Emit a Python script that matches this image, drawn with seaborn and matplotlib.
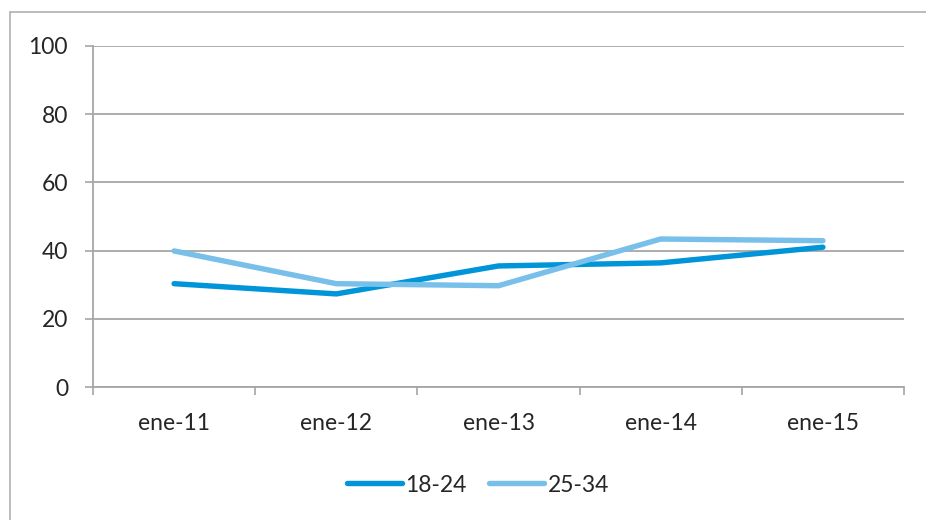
import matplotlib
matplotlib.use("Agg")
import matplotlib.pyplot as plt
from matplotlib.lines import Line2D
from matplotlib.ticker import FixedLocator
import pandas as pd
import seaborn as sns

# data
fechas = ["ene-11", "ene-12", "ene-13", "ene-14", "ene-15"]
serie_18_24 = [30.3, 27.3, 35.5, 36.4, 41.0]
serie_25_34 = [39.9, 30.3, 29.7, 43.4, 42.9]
series = ["18-24", "25-34"]
colores = ["#0095d9", "#78c0ea"]
y_ticks = [0, 20, 40, 60, 80, 100]

df = pd.DataFrame({
    "fecha": fechas * 2,
    "valor": serie_18_24 + serie_25_34,
    "grupo": [series[0]] * len(fechas) + [series[1]] * len(fechas),
})
df["pos"] = list(range(len(fechas))) * 2

sns.set_style("white")
plt.rcParams["font.family"] = ["Lato", "DejaVu Sans"]

W, H = 926, 520
FS = 16.5
fig = plt.figure(figsize=(W / 100, H / 100), dpi=100)
ax = fig.add_axes([93 / W, 1 - 387 / H, (904 - 93) / W, (387 - 46) / H])

sns.lineplot(
    data=df, x="pos", y="valor", hue="grupo", palette=colores,
    linewidth=3.9, ax=ax, legend=False, zorder=3,
)
for line in ax.get_lines():
    line.set_solid_capstyle("round")
    line.set_solid_joinstyle("round")

grid_color = "#a6a6a6"
ax.set_xlim(-0.5, len(fechas) - 0.5)
ax.set_ylim(0, 100)
ax.set_yticks(y_ticks)
ax.set_xticks(range(len(fechas)))
ax.set_xticklabels(fechas)
ax.xaxis.set_minor_locator(FixedLocator([i - 0.5 for i in range(len(fechas) + 1)]))
ax.tick_params(axis="x", which="major", length=0, pad=19, labelsize=FS)
ax.tick_params(axis="x", which="minor", length=6, width=1.2, color=grid_color, direction="out", bottom=True)
ax.tick_params(axis="y", length=6, width=1.2, color=grid_color, direction="out", left=True, pad=12, labelsize=FS)
ax.yaxis.grid(True, color=grid_color, linewidth=1.3)
ax.set_axisbelow(True)
for side in ["top", "right"]:
    ax.spines[side].set_visible(False)
for side in ["left", "bottom"]:
    ax.spines[side].set_color(grid_color)
    ax.spines[side].set_linewidth(1.3)
ax.set_xlabel("")
ax.set_ylabel("")

handles = [
    Line2D([0], [0], color=c, linewidth=3.9, solid_capstyle="round") for c in colores
]
fig.legend(
    handles, series, loc="center", bbox_to_anchor=(478 / W, 1 - 485 / H),
    ncol=2, frameon=False, fontsize=FS, handlelength=2.4, handletextpad=0.15,
    columnspacing=1.0,
)

# chart-area border (left and top edges visible)
fig.add_artist(Line2D([9.5 / W, 9.5 / W], [0, 1 - 12 / H], color="#b0b0b0", linewidth=1.2))
fig.add_artist(Line2D([9.5 / W, 1], [1 - 12 / H, 1 - 12 / H], color="#b0b0b0", linewidth=1.2))

fig.savefig("out.png", dpi=100)
